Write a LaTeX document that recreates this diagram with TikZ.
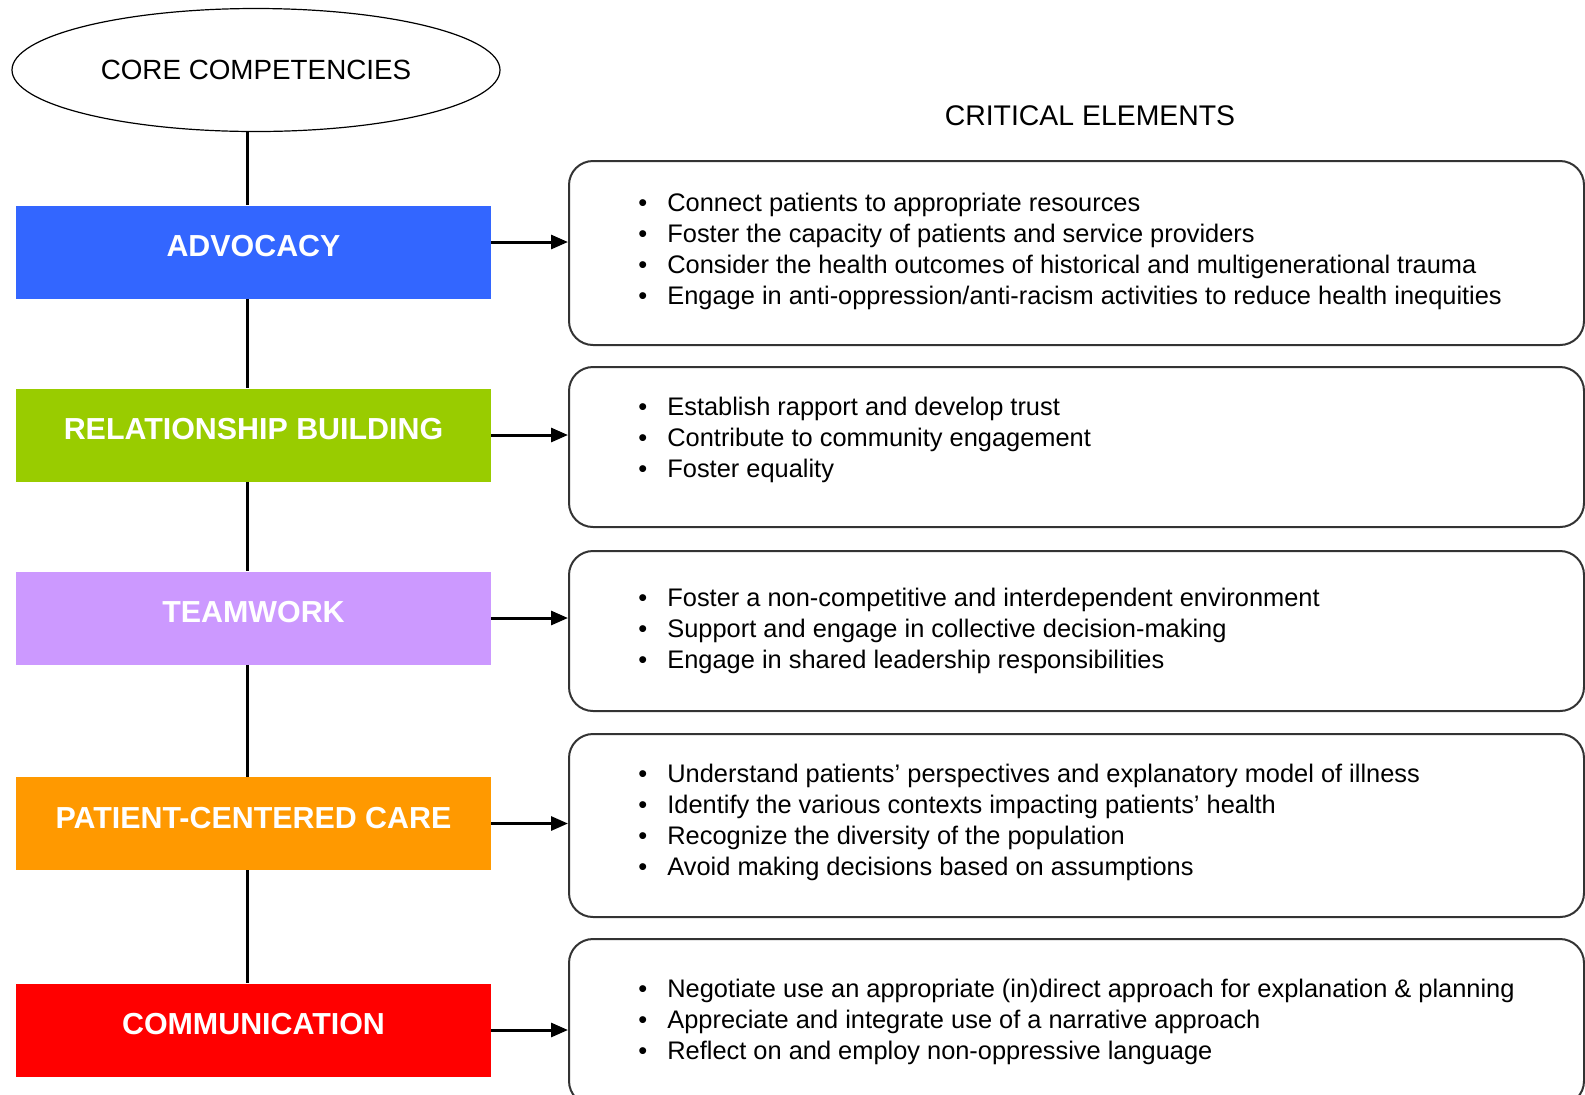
\documentclass[tikz,border=0pt]{standalone}
\usepackage{fontspec}
\setmainfont{Liberation Sans}
\usetikzlibrary{shapes,arrows.meta}
\definecolor{advblue}{HTML}{3366FF}
\definecolor{relgreen}{HTML}{99CC00}
\definecolor{teampurple}{HTML}{CC99FF}
\definecolor{careorange}{HTML}{FF9900}
\definecolor{commred}{HTML}{FF0000}
\newcommand{\bul}{\makebox[14.5pt][l]{\textbullet}}
\begin{document}
\begin{tikzpicture}[x=.5pt,y=-.5pt,
comp/.style={fill=#1,minimum width=237.5pt,minimum height=46.5pt,inner sep=0,text=white,font=\fontsize{15.2}{18}\selectfont\bfseries,text depth=6pt},
crit/.style={draw=black!80,line width=1pt,rounded corners=12pt,minimum width=507.5pt,minimum height=#1,anchor=north west,inner sep=0},
list/.style={anchor=west,align=left,inner sep=0,font=\fontsize{12.7}{15.5}\selectfont},
link/.style={line width=1.5pt,-{Triangle[length=8.5pt,width=7pt]}},
spine/.style={line width=1.5pt}]
\useasboundingbox(0,0)rectangle(1585,1094);
\clip(0,0)rectangle(1585,1094);
\coordinate(L)at(247,0);
\node[draw,ellipse,line width=.6pt,minimum width=244pt,minimum height=61.5pt,inner sep=0,font=\fontsize{13.9}{16}\selectfont](C0)at(256,70){CORE COMPETENCIES};
\node[font=\fontsize{14.2}{17}\selectfont](T0)at(1090,115.5){CRITICAL ELEMENTS};
\node[comp=advblue](C1)at(253.5,252){ADVOCACY};
\node[comp=relgreen](C2)at(253.5,435){RELATIONSHIP BUILDING};
\node[comp=teampurple](C3)at(253.5,618){TEAMWORK};
\node[comp=careorange](C4)at(253.5,823.5){PATIENT-CENTERED CARE};
\node[comp=commred](C5)at(253.5,1030){COMMUNICATION};
\node[crit=92pt](E1)at(568,160){};
\node[crit=80pt](E2)at(568,366){};
\node[crit=80pt](E3)at(568,550){};
\node[crit=91.5pt](E4)at(568,733){};
\node[crit=83pt](E5)at(568,938){};
\node[list](T1)at(638,251.5){\bul Connect patients to appropriate resources\\
\bul Foster the capacity of patients and service providers\\
\bul Consider the health outcomes of historical and multigenerational trauma\\
\bul Engage in anti-oppression/anti-racism activities to reduce health inequities};
\node[list](T2)at(638,440){\bul Establish rapport and develop trust\\
\bul Contribute to community engagement\\
\bul Foster equality};
\node[list](T3)at(638,631){\bul Foster a non-competitive and interdependent environment\\
\bul Support and engage in collective decision-making\\
\bul Engage in shared leadership responsibilities};
\node[list](T4)at(638,822.5){\bul Understand patients' perspectives and explanatory model of illness\\
\bul Identify the various contexts impacting patients' health\\
\bul Recognize the diversity of the population\\
\bul Avoid making decisions based on assumptions};
\node[list](T5)at(638,1021.5){\bul Negotiate use an appropriate (in)direct approach for explanation \& planning\\
\bul Appreciate and integrate use of a narrative approach\\
\bul Reflect on and employ non-oppressive language};
\draw[spine](C0.south-|L)--(C1.north-|L);
\draw[spine](C1.south-|L)--(C2.north-|L);
\draw[spine](C2.south-|L)--(C3.north-|L);
\draw[spine](C3.south-|L)--(C4.north-|L);
\draw[spine](C4.south-|L)--(C5.north-|L);
\draw[link]([yshift=5pt]C1.east)--([yshift=5pt]C1.east-|E1.west);
\draw[link](C2.east)--(C2.east-|E2.west);
\draw[link](C3.east)--(C3.east-|E3.west);
\draw[link](C4.east)--(C4.east-|E4.west);
\draw[link](C5.east)--(C5.east-|E5.west);
\end{tikzpicture}
\end{document}
